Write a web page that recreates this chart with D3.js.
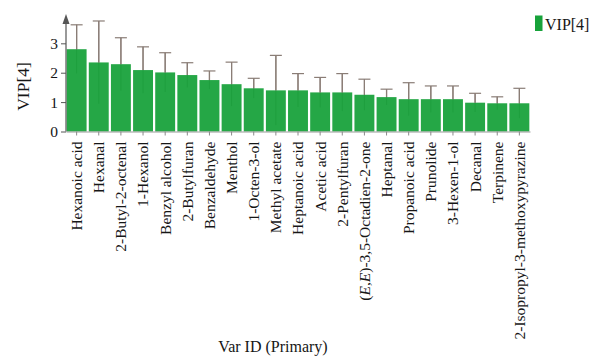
<!DOCTYPE html>
<html>
<head>
<meta charset="utf-8">
<script src="https://cdn.jsdelivr.net/npm/d3@7"></script>
<style>
  html, body { margin: 0; padding: 0; background: #ffffff; }
  svg { display: block; font-family: "Liberation Serif", "Times New Roman", serif; }
</style>
</head>
<body>
<svg id="chart" width="594" height="357"></svg>
<script>
// VIP scores of the volatile compounds (component 4), sorted descending
const compounds = [
  "Hexanoic acid", "Hexanal", "2-Butyl-2-octenal", "1-Hexanol", "Benzyl alcohol",
  "2-Butylfuran", "Benzaldehyde", "Menthol", "1-Octen-3-ol", "Methyl acetate",
  "Heptanoic acid", "Acetic acid", "2-Pentylfuran", "(E,E)-3,5-Octadien-2-one",
  "Heptanal", "Propanoic acid", "Prunolide", "3-Hexen-1-ol", "Decanal",
  "Terpinene", "2-Isopropyl-3-methoxypyrazine"
];
const vipValues = [
  2.80, 2.35, 2.29, 2.09, 2.01, 1.92, 1.75, 1.61, 1.47, 1.40,
  1.40, 1.33, 1.33, 1.25, 1.17, 1.10, 1.10, 1.10, 0.98, 0.96, 0.96
];
// upper end of each confidence interval
const vipUpper = [
  3.63, 3.76, 3.19, 2.88, 2.68, 2.34, 2.06, 2.36, 1.81, 2.59,
  1.97, 1.84, 1.97, 1.78, 1.44, 1.66, 1.55, 1.55, 1.30, 1.18, 1.47
];
const yTicks = [0, 1, 2, 3];
const seriesName = "VIP[4]";
const xTitle = "Var ID (Primary)";

const rows = compounds.map((name, i) => ({
  name, value: vipValues[i], err: vipUpper[i] - vipValues[i]
}));

const svg = d3.select("#chart");
const barColor = "#17a23a";
const errColor = "#8a7d76";
const axisColor = "#555555";
const textColor = "#161616";

const x = d3.scaleBand()
  .domain(compounds)
  .range([66, 530])
  .paddingInner(0.1)
  .paddingOuter(0.03);

const y = d3.scaleLinear()
  .domain([0, 3.95])
  .range([131.5, 15.4]);

// full error bars, drawn under the bars so the lower half stays faint
svg.append("g").selectAll("line")
  .data(rows).join("line")
  .attr("x1", d => x(d.name) + x.bandwidth() / 2)
  .attr("x2", d => x(d.name) + x.bandwidth() / 2)
  .attr("y1", d => y(d.value - d.err))
  .attr("y2", d => y(d.value + d.err))
  .attr("stroke", errColor).attr("stroke-width", 1.2);

// bars
svg.append("g").selectAll("rect")
  .data(rows).join("rect")
  .attr("x", d => x(d.name))
  .attr("width", x.bandwidth())
  .attr("y", d => y(d.value))
  .attr("height", d => y(0) - y(d.value))
  .attr("fill", barColor)
  .attr("fill-opacity", 0.94);

// upper whiskers and caps on top of the bars
const eb2 = svg.append("g");
eb2.selectAll("line.up")
  .data(rows).join("line").attr("class", "up")
  .attr("x1", d => x(d.name) + x.bandwidth() / 2)
  .attr("x2", d => x(d.name) + x.bandwidth() / 2)
  .attr("y1", d => y(d.value))
  .attr("y2", d => y(d.value + d.err))
  .attr("stroke", errColor).attr("stroke-width", 1.2);
eb2.selectAll("line.cap")
  .data(rows).join("line").attr("class", "cap")
  .attr("x1", d => x(d.name) + x.bandwidth() / 2 - 6)
  .attr("x2", d => x(d.name) + x.bandwidth() / 2 + 6)
  .attr("y1", d => y(d.value + d.err))
  .attr("y2", d => y(d.value + d.err))
  .attr("stroke", errColor).attr("stroke-width", 1.2);

// y axis
const yAxis = svg.append("g")
  .attr("transform", "translate(66,0)")
  .call(d3.axisLeft(y).tickValues(yTicks).tickFormat(d3.format("d")).tickSize(5).tickPadding(3));
yAxis.select(".domain").remove();
yAxis.selectAll(".tick line").attr("stroke", axisColor);
yAxis.selectAll(".tick text")
  .attr("font-family", "Liberation Serif, serif")
  .attr("font-size", 15.5)
  .attr("fill", textColor);
svg.append("line")
  .attr("x1", 66).attr("x2", 66)
  .attr("y1", y(0)).attr("y2", 22)
  .attr("stroke", axisColor).attr("stroke-width", 1.2);
svg.append("path")
  .attr("d", "M66,14 L62.5,24 L69.5,24 Z")
  .attr("fill", axisColor);

// x axis
const xAxis = svg.append("g")
  .attr("transform", `translate(0,${y(0)})`)
  .call(d3.axisBottom(x).tickSize(4).tickSizeOuter(0).tickPadding(7));
xAxis.select(".domain").attr("stroke", "#9a9a9a");
xAxis.selectAll(".tick line").attr("stroke", "#8a8a8a");
xAxis.selectAll(".tick text")
  .attr("font-family", "Liberation Serif, serif")
  .attr("font-size", 15.5)
  .attr("fill", textColor)
  .attr("text-anchor", "end")
  .attr("dy", "0.35em")
  .attr("transform", "translate(0,3) rotate(-90)")
  .attr("x", -7)
  .attr("y", 0)
  .each(function (d) {
    if (d.startsWith("(E,E)")) {
      const t = d3.select(this).text("");
      t.append("tspan").text("(");
      t.append("tspan").attr("font-style", "italic").text("E");
      t.append("tspan").text(",");
      t.append("tspan").attr("font-style", "italic").text("E");
      t.append("tspan").text(d.slice(4));
    }
  });

// axis titles
svg.append("text")
  .attr("transform", "translate(29,86.5) rotate(-90)")
  .attr("text-anchor", "middle")
  .attr("font-size", 17.5)
  .attr("fill", textColor)
  .text(seriesName);

svg.append("text")
  .attr("x", 273).attr("y", 352)
  .attr("text-anchor", "middle")
  .attr("font-size", 16)
  .attr("fill", textColor)
  .text(xTitle);

// legend
svg.append("rect")
  .attr("x", 535).attr("y", 15.5)
  .attr("width", 7.5).attr("height", 15.5)
  .attr("fill", barColor);
svg.append("text")
  .attr("x", 545).attr("y", 29.5)
  .attr("font-size", 16)
  .attr("fill", textColor)
  .text(seriesName);
</script>
</body>
</html>
